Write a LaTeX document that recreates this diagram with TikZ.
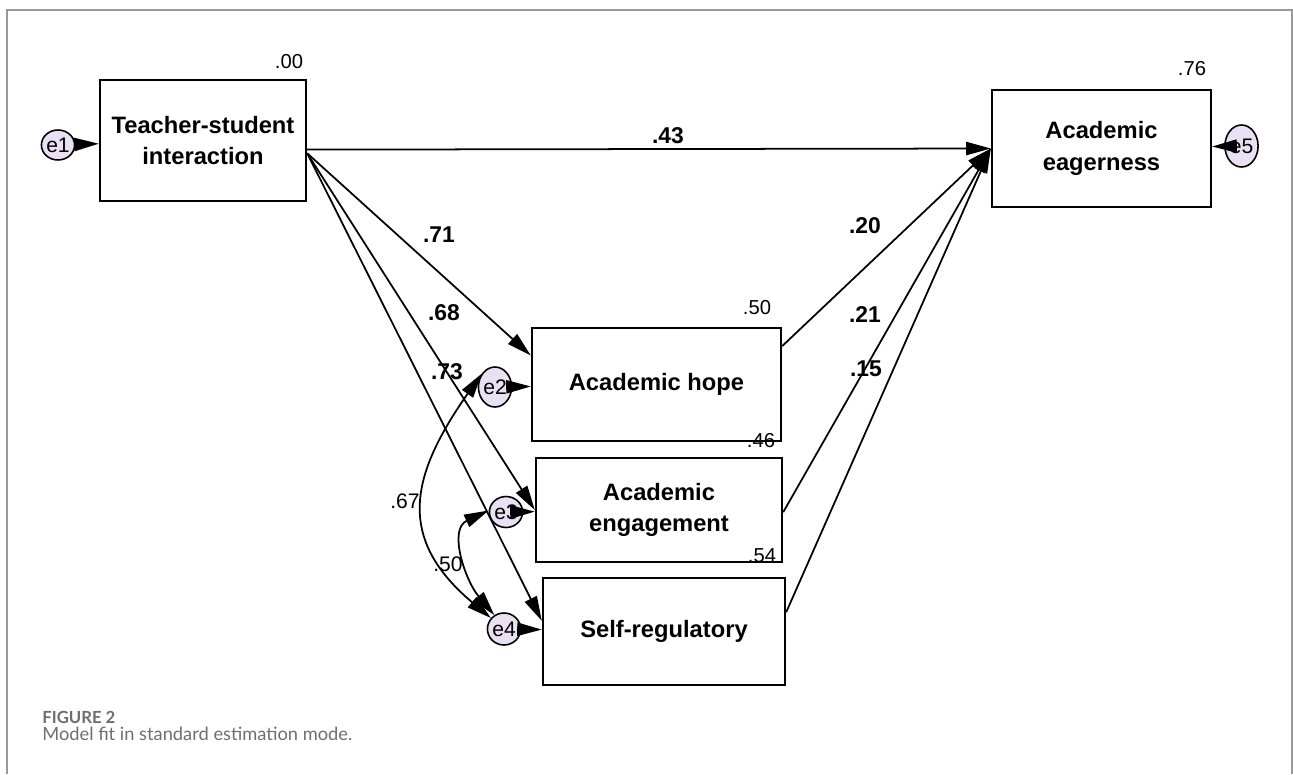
\documentclass[tikz,border=0pt]{standalone}
\usepackage{fontspec}
\setmainfont{Liberation Sans}
\newfontfamily\capfont{Lato}
\usetikzlibrary{arrows.meta,shapes.geometric}
\definecolor{errfill}{RGB}{234,224,243}
\definecolor{capgray}{RGB}{110,110,110}
\tikzset{latent/.style={draw, line width=1.4pt, align=center, inner sep=0pt, font=\fontsize{13.5}{18}\selectfont\bfseries}}
\tikzset{err/.style={ellipse, draw, line width=0.9pt, fill=errfill, inner sep=0pt, font=\fontsize{12}{12}\selectfont}}
\tikzset{reg/.style={line width=1pt, -{Triangle[length=14pt,width=7.5pt]}}}
\tikzset{cov/.style={line width=1pt, {Triangle[length=14pt,width=7.5pt]}-{Triangle[length=14pt,width=7.5pt]}}}
\tikzset{coef/.style={inner sep=0pt, font=\fontsize{13}{13}\selectfont\bfseries}}
\tikzset{rsq/.style={inner sep=0pt, font=\fontsize{11.5}{11.5}\selectfont}}
\tikzset{frame/.style={draw=black!40, line width=0.7pt}}
\begin{document}
\begin{tikzpicture}[x=0.02cm, y=-0.02cm]
\useasboundingbox (0,0) rectangle (1293,774);
\draw[frame] (7,774) |- (1292,10) -- (1292,774);
%exogenous and outcome
\node (TS) at (203,140.5)[latent, minimum width=4.12cm, minimum height=2.42cm]{Teacher-student\\interaction};
\node (AE) at (1101.5,148.5)[latent, minimum width=4.38cm, minimum height=2.34cm]{Academic\\eagerness};
%mediators
\node (AH) at (656.5,384.5)[latent, minimum width=4.98cm, minimum height=2.26cm]{Academic hope};
\node (AEn) at (659,510)[latent, minimum width=4.92cm, minimum height=2.08cm]{Academic\\engagement};
\node (SR) at (664,631.5)[latent, minimum width=4.84cm, minimum height=2.14cm]{Self-regulatory};
%errors
\node (e1) at (58,145)[err, minimum width=0.54cm, minimum height=0.6cm]{e1};
\node (e5) at (1241.5,146)[err, minimum width=0.54cm, minimum height=0.84cm]{e5};
\node (e2) at (495,387)[err, minimum width=0.66cm, minimum height=0.8cm]{e2};
\node (e3) at (506,512)[err, minimum width=0.52cm, minimum height=0.62cm]{e3};
\node (e4) at (504,629)[err, minimum width=0.56cm, minimum height=0.64cm]{e4};
%squared multiple correlations
\node (rTS) at (289,62)[rsq]{.00};
\node (rAE) at (1192,69)[rsq]{.76};
\node (rAH) at (757,308)[rsq]{.50};
\node (rAEn) at (761,441)[rsq]{.46};
\node (rSR) at (762,556)[rsq]{.54};

\draw[reg] (e1)--(TS);
\draw[reg] (e5)--(AE);
\draw[reg] (e2)--(AH);
\draw[reg] (e3)--(AEn);
\draw[reg] (e4)--(SR);
\draw[reg] (TS.-5)--(AE.west);
\draw[reg] (TS.-7)--(AH.167);
\draw[reg] (TS.-7)--(AEn.west);
\draw[reg] (TS.-7)--(SR.175);
\draw[reg] (AH.17)--(AE.west);
\draw[reg] (AEn.-1)--(AE.west);
\draw[reg] (SR.9)--(AE.west);
\draw[cov] (e2.135) to[out=235, in=140, looseness=1.3] (e4.140);
\draw[cov] (e3.175) to[out=205, in=130, looseness=1.1] (e4.125);
%path coefficients
\node (c43) at (668,136)[coef]{.43};
\node (c71) at (439,235)[coef]{.71};
\node (c68) at (444,313)[coef]{.68};
\node (c73) at (447,372)[coef]{.73};
\node (c20) at (865,226)[coef]{.20};
\node (c21) at (865,315)[coef]{.21};
\node (c15) at (866,369)[coef]{.15};
\node (k67) at (405,501)[rsq, font=\fontsize{12}{12}\selectfont]{.67};
\node (k50) at (448,564)[rsq, font=\fontsize{12}{12}\selectfont]{.50};
%caption
\node (fig) at (42,723)[anchor=base west, inner sep=0pt, text=capgray, font=\capfont\bfseries\fontsize{9.5}{10}\selectfont]{FIGURE 2};
\node (cap) at (42,740)[anchor=base west, inner sep=0pt, text=capgray, font=\capfont\fontsize{10.4}{12}\selectfont]{Model fit in standard estimation mode.};
\end{tikzpicture}
\end{document}
